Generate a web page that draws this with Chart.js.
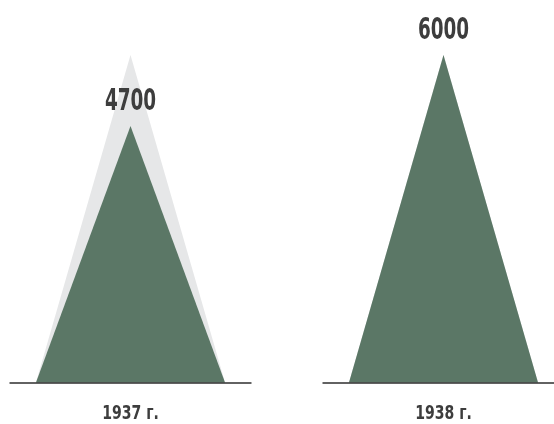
<!DOCTYPE html>
<html>
<head>
<meta charset="utf-8">
<script src="https://cdn.jsdelivr.net/npm/chart.js@4"></script>
<style>
  html, body { margin: 0; padding: 0; background: #fff; }
  #wrap { width: 554px; height: 424px; position: relative; }
</style>
</head>
<body>
<div id="wrap"><canvas id="chart"></canvas></div>
<script>
// data
const years = ['1937 г.', '1938 г.'];
const actual = [4700, 6000];
const ceiling = [6000, 6000]; // grey silhouette behind

const GREEN = '#5b7766';
const GREY = '#e6e7e8';
const FONT = '"DejaVu Sans Condensed", "Liberation Sans Narrow", sans-serif';

// narrow text by squeezing horizontally (no condensed display font available)
function squeezedText(ctx, text, x, y, sx) {
    ctx.save();
    ctx.translate(x, y);
    ctx.scale(sx, 1);
    ctx.fillText(text, 0, 0);
    ctx.restore();
}

// draws each bar as a triangle + its own baseline + labels
const trianglePlugin = {
    id: 'triangles',
    afterDatasetsDraw(chart) {
        const ctx = chart.ctx;
        ctx.save();
        // grey first, then green
        [1, 0].forEach(di => {
            const meta = chart.getDatasetMeta(di);
            const color = chart.data.datasets[di].triColor;
            meta.data.forEach(bar => {
                const half = bar.width / 2;
                ctx.beginPath();
                ctx.moveTo(bar.x - half, bar.base);
                ctx.lineTo(bar.x, bar.y);
                ctx.lineTo(bar.x + half, bar.base);
                ctx.closePath();
                ctx.fillStyle = color;
                ctx.fill();
            });
        });

        // baselines
        const meta = chart.getDatasetMeta(0);
        meta.data.forEach(bar => {
            const half = bar.width / 2 * 1.28;
            ctx.beginPath();
            ctx.moveTo(bar.x - half, bar.base + 0.5);
            ctx.lineTo(bar.x + half, bar.base + 0.5);
            ctx.strokeStyle = '#2e2e2e';
            ctx.lineWidth = 1.5;
            ctx.stroke();
        });

        ctx.fillStyle = '#3d3d3d';
        ctx.textAlign = 'center';
        ctx.textBaseline = 'alphabetic';

        // value labels
        ctx.font = 'bold 31px ' + FONT;
        meta.data.forEach((bar, i) => {
            squeezedText(ctx, String(actual[i]), bar.x, bar.y - 16, 0.66);
        });

        // category labels under the baseline
        ctx.font = 'bold 20px ' + FONT;
        const xs = chart.scales.x;
        years.forEach((lab, i) => {
            squeezedText(ctx, lab, xs.getPixelForValue(i), chart.chartArea.bottom + 36, 0.78);
        });
        ctx.restore();
    }
};

new Chart(document.getElementById('chart'), {
    type: 'bar',
    data: {
        labels: years,
        datasets: [
            {
                label: 'Выпуск',
                data: actual,
                triColor: GREEN,
                backgroundColor: 'rgba(0,0,0,0)',
                grouped: false,
                barPercentage: 0.604,
                categoryPercentage: 1
            },
            {
                label: 'Максимум',
                data: ceiling,
                triColor: GREY,
                backgroundColor: 'rgba(0,0,0,0)',
                grouped: false,
                barPercentage: 0.604,
                categoryPercentage: 1
            }
        ]
    },
    options: {
        responsive: true,
        maintainAspectRatio: false,
        animation: false,
        layout: {
            padding: { left: 130.5, right: 110.5, top: 55, bottom: 41.5 }
        },
        plugins: {
            legend: { display: false },
            tooltip: { enabled: false }
        },
        scales: {
            x: {
                display: false,
                offset: false
            },
            y: {
                display: false,
                min: 0,
                max: 6000
            }
        }
    },
    plugins: [trianglePlugin]
});
</script>
</body>
</html>
